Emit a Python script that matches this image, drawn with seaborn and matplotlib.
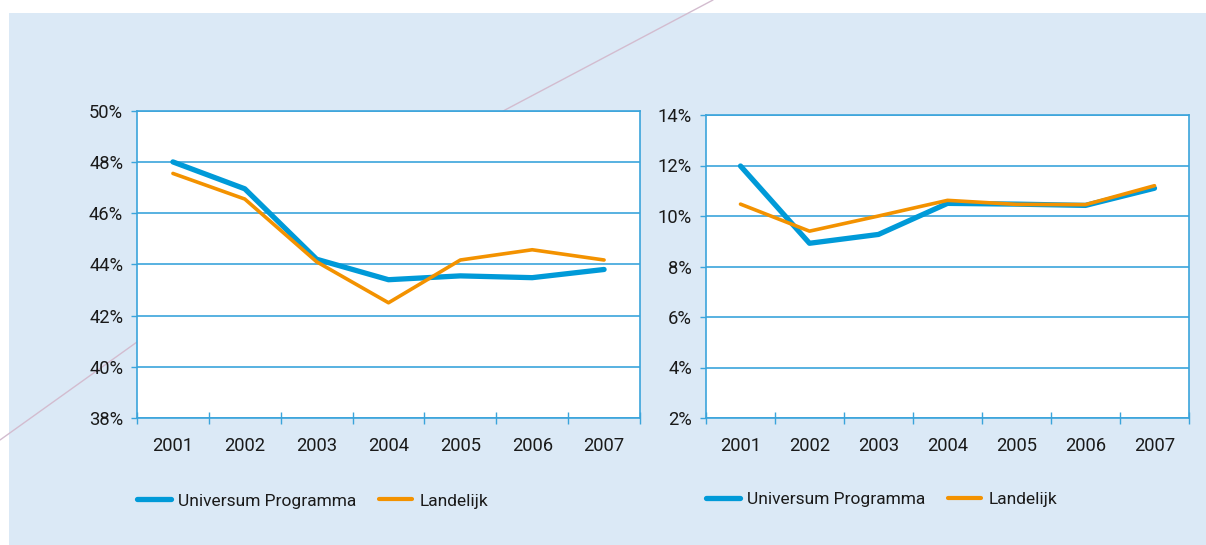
import pandas as pd
import seaborn as sns
import matplotlib.pyplot as plt
from matplotlib.lines import Line2D
from matplotlib.patches import Rectangle
from matplotlib.ticker import FixedLocator, MultipleLocator, FuncFormatter

# --- data ---
YEARS = [2001, 2002, 2003, 2004, 2005, 2006, 2007]
SERIES = ["Universum Programma", "Landelijk"]

left_universum = [48.0, 46.95, 44.2, 43.4, 43.55, 43.48, 43.8]
left_landelijk = [47.55, 46.55, 44.1, 42.5, 44.17, 44.57, 44.17]

right_universum = [11.98, 8.92, 9.27, 10.5, 10.47, 10.42, 11.1]
right_landelijk = [10.47, 9.4, 10.0, 10.62, 10.46, 10.45, 11.2]

LEFT_YLIM = (38, 50)
RIGHT_YLIM = (2, 14)
# ------------------------------------

BLUE = "#009ad8"
ORANGE = "#f39200"
GRID = "#3ba4db"
PANEL = "#dbe9f6"
TEXT = "#1a1a1a"
FS = 13.2
LEG_FS = 12.5


def long_frame(universum, landelijk):
    return pd.DataFrame({
        "Jaar": YEARS * 2,
        "Waarde": universum + landelijk,
        "Reeks": [SERIES[0]] * len(YEARS) + [SERIES[1]] * len(YEARS),
    })


sns.set_theme(style="white")
plt.rcParams["font.family"] = ["Roboto", "DejaVu Sans"]

fig = plt.figure(figsize=(12.06, 5.45), dpi=100)
fig.patch.set_facecolor("white")

# light blue panel behind the charts
fig.add_artist(Rectangle((9 / 1206, 0), 1, 1 - 13 / 545, transform=fig.transFigure,
                         facecolor=PANEL, edgecolor="none", zorder=-10))
# thin decorative diagonal
deco_x = [0, 137, 505, 713]
deco_y = [440, 342, 110, 0]
fig.add_artist(Line2D([x / 1206 for x in deco_x], [1 - y / 545 for y in deco_y],
                      transform=fig.transFigure, color="#d3bccf", lw=1.0, zorder=-9))

ax1 = fig.add_axes([137 / 1206, 1 - 418 / 545, 503 / 1206, (418 - 110.7) / 545])
ax2 = fig.add_axes([706 / 1206, 1 - 418 / 545, 483 / 1206, (418 - 115) / 545])

panels = [
    (ax1, long_frame(left_universum, left_landelijk), LEFT_YLIM),
    (ax2, long_frame(right_universum, right_landelijk), RIGHT_YLIM),
]

for ax, df, ylim in panels:
    ax.set_facecolor("white")
    sns.lineplot(data=df, x="Jaar", y="Waarde", hue="Reeks", hue_order=SERIES,
                 palette=[BLUE, ORANGE], ax=ax, legend=False, zorder=3)
    ax.lines[0].set_linewidth(3.8)
    ax.lines[1].set_linewidth(2.6)

    ax.set_xlim(YEARS[0] - 0.5, YEARS[-1] + 0.5)
    ax.set_ylim(*ylim)

    # tick marks sit between the categories, labels under the centres
    ax.xaxis.set_major_locator(FixedLocator([y - 0.5 for y in YEARS] + [YEARS[-1] + 0.5]))
    ax.xaxis.set_major_formatter(FuncFormatter(lambda v, _: ""))
    ax.xaxis.set_minor_locator(FixedLocator(YEARS))
    ax.xaxis.set_minor_formatter(FuncFormatter(lambda v, _: f"{v:.0f}"))
    ax.tick_params(axis="x", which="major", direction="inout", length=8, width=1,
                   color=GRID, bottom=True)
    ax.tick_params(axis="x", which="minor", length=0, pad=14, labelsize=FS,
                   labelcolor=TEXT, bottom=True)

    ax.yaxis.set_major_locator(MultipleLocator(2))
    ax.yaxis.set_major_formatter(FuncFormatter(lambda v, _: f"{v:.0f}%"))
    ax.tick_params(axis="y", direction="out", length=4, width=1, color=GRID,
                   pad=6, labelsize=FS, labelcolor=TEXT, left=True)

    ax.grid(axis="y", color=GRID, linewidth=1.2)
    ax.grid(axis="x", visible=False)
    for side in ["left", "right", "top", "bottom"]:
        ax.spines[side].set_visible(True)
        ax.spines[side].set_color(GRID)
        ax.spines[side].set_linewidth(1.2)
    ax.set_xlabel("")
    ax.set_ylabel("")

    handles = [Line2D([], [], color=BLUE, lw=3.8), Line2D([], [], color=ORANGE, lw=3.0)]
    ax.legend(handles, SERIES, loc="center left", bbox_to_anchor=(0.0, -0.27),
              ncol=2, frameon=False, fontsize=LEG_FS, borderaxespad=0, borderpad=0,
              handlelength=1.95, handletextpad=0.4, columnspacing=1.3,
              labelcolor=TEXT)

fig.savefig("out.png", dpi=100, facecolor=fig.get_facecolor())
